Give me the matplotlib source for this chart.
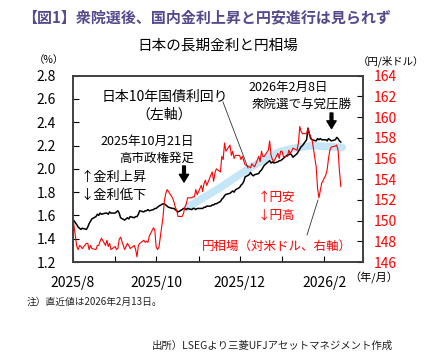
import numpy as np
import pandas as pd
import matplotlib
matplotlib.use("Agg")
import matplotlib.pyplot as plt
import matplotlib.dates as mdates
from matplotlib.lines import Line2D

plt.rcParams['font.family'] = ['Noto Sans CJK JP', 'DejaVu Sans']

W, H = 426, 363

# JGB 10y yield (%), business days by month
jgb_aug = [1.57, 1.52, 1.50, 1.49, 1.48, 1.49, 1.48, 1.50, 1.53, 1.55, 1.57,
           1.59, 1.61, 1.60, 1.62, 1.61, 1.62, 1.62, 1.61, 1.63, 1.62]
jgb_sep = [1.62, 1.63, 1.64, 1.62, 1.58, 1.56, 1.57, 1.58, 1.57, 1.59, 1.58,
           1.59, 1.59, 1.61, 1.64, 1.63, 1.64, 1.64, 1.65, 1.64, 1.65, 1.66]
jgb_oct = [1.66, 1.67, 1.68, 1.70, 1.70, 1.69, 1.68, 1.67, 1.66, 1.66, 1.65,
           1.64, 1.63, 1.65, 1.66, 1.66, 1.65, 1.66, 1.65, 1.66, 1.66, 1.65, 1.66]
jgb_nov = [1.66, 1.66, 1.67, 1.67, 1.68, 1.68, 1.69, 1.69, 1.70, 1.70, 1.72,
           1.74, 1.75, 1.77, 1.78, 1.79, 1.80, 1.81, 1.80, 1.82]
jgb_dec = [1.84, 1.86, 1.87, 1.89, 1.93, 1.95, 1.97, 1.95, 1.94, 1.95, 1.96,
           1.98, 1.99, 2.01, 2.03, 2.06, 2.07, 2.05, 2.06, 2.05, 2.06, 2.07, 2.07]
jgb_jan = [2.08, 2.09, 2.12, 2.12, 2.13, 2.12, 2.10, 2.13, 2.15, 2.17, 2.19,
           2.20, 2.25, 2.35, 2.30, 2.26, 2.25, 2.24, 2.26, 2.25, 2.26, 2.25]
jgb_feb = [2.25, 2.24, 2.26, 2.25, 2.24, 2.25, 2.27, 2.26, 2.24, 2.23]

# USD/JPY
usd_aug = [150.4, 147.5, 147.2, 147.6, 147.5, 147.3, 147.8, 147.8, 147.2, 147.6, 147.3,
           147.2, 147.6, 147.6, 148.0, 148.3, 147.6, 148.1, 147.5, 147.8, 147.2]
usd_sep = [147.5, 147.2, 147.3, 148.2, 148.4, 147.2, 147.5, 147.8, 147.6, 147.3, 147.6,
           147.2, 146.5, 147.6, 147.8, 148.1, 147.9, 148.0, 147.9, 148.5, 149.3, 149.1]
usd_oct = [147.5, 147.2, 147.4, 150.3, 151.9, 152.6, 153.0, 152.8, 152.2, 151.8, 151.3,
           151.0, 150.4, 150.4, 150.7, 151.3, 151.6, 152.2, 152.2, 152.3, 152.3, 153.0, 152.5]
usd_nov = [153.4, 152.8, 153.6, 153.9, 153.4, 154.4, 154.7, 153.8, 154.6, 155.0, 154.7,
           156.2, 155.9, 157.5, 156.7, 157.3, 156.3, 156.7, 156.0, 156.3]
usd_dec = [156.3, 155.9, 156.2, 155.8, 155.4, 155.2, 155.1, 155.5, 155.3, 155.2, 156.2,
           155.7, 156.7, 156.2, 156.2, 156.8, 157.7, 156.3, 155.9, 155.7, 156.5, 156.0, 156.7]
usd_jan = [156.7, 156.2, 156.2, 156.8, 156.5, 156.7, 157.0, 156.8, 157.5, 159.1, 158.6,
           158.4, 158.4, 158.9, 158.4, 158.1, 157.8, 155.2, 153.1, 152.2, 152.9, 153.6]
usd_feb = [154.4, 154.9, 156.0, 156.8, 157.1, 157.2, 157.3, 156.8, 154.8, 153.3]

dates = pd.bdate_range('2025-08-01', '2026-02-13')
jgb = jgb_aug + jgb_sep + jgb_oct + jgb_nov + jgb_dec + jgb_jan + jgb_feb
usd = usd_aug + usd_sep + usd_oct + usd_nov + usd_dec + usd_jan + usd_feb

# hand-drawn trend band (left axis units)
band_dates = pd.to_datetime(['2025-10-24', '2025-11-17', '2025-12-06', '2025-12-19',
                             '2025-12-31', '2026-01-11', '2026-01-23', '2026-02-04', '2026-02-14'])
band_vals = [1.67, 1.84, 1.99, 2.08, 2.15, 2.18, 2.20, 2.19, 2.185]

fig = plt.figure(figsize=(W / 100, H / 100), dpi=100)
ax = fig.add_axes([72.7 / W, 1 - 262 / H, 290 / W, 186.3 / H])
ax2 = ax.twinx()

ax.plot(band_dates, band_vals, color='#c4e6f6', lw=5.5, solid_capstyle='round', zorder=1)
ax.plot(dates, jgb, color='black', lw=1.1, zorder=3)
ax2.plot(dates, usd, color='#ff0000', lw=0.8)

ax.set_xlim(pd.Timestamp('2025-08-01'), pd.Timestamp('2026-03-01'))
ax.set_ylim(1.2, 2.8)
ax.set_yticks(np.arange(1.2, 2.81, 0.2))
ax.yaxis.set_major_formatter(plt.FuncFormatter(lambda v, p: f'{v:.1f}'))
ax2.set_ylim(146, 164)
ax2.set_yticks(np.arange(146, 165, 2))

ax.xaxis.set_major_locator(mdates.MonthLocator())
ax.xaxis.set_major_formatter(plt.FuncFormatter(
    lambda v, p: (lambda d: f'{d.year}/{d.month}' if d.month in (8, 10, 12, 2) else '')(mdates.num2date(v))))

ax.tick_params(axis='y', direction='in', length=4, width=0.8, labelsize=10, pad=12, right=False)
ax.tick_params(axis='x', direction='in', length=4, width=0.8, labelsize=10, pad=10)
ax2.tick_params(axis='y', direction='in', length=4, width=0.8, labelsize=10, pad=8, labelcolor='#ff0000')
for a in (ax, ax2):
    for s in a.spines.values():
        s.set_color('#404040')
        s.set_linewidth(1.2)


def ftext(x, y, s, **kw):
    kw.setdefault('va', 'center')
    fig.text(x / W, 1 - y / H, s, **kw)


def fxy(x, y):
    return (x / W, 1 - y / H)


ftext(22, 17, '【図1】衆院選後、国内金利上昇と円安進行は見られず', ha='left',
      fontsize=10.8, weight='bold', color='#564a8e')
ftext(218, 46, '日本の長期金利と円相場', ha='center', fontsize=10.5)
ftext(49, 60, '（%）', ha='center', fontsize=7.5)
ftext(391, 61, '（円/米ドル）', ha='center', fontsize=7.5)
ftext(374, 278, '（年/月）', ha='center', fontsize=8)
ftext(27, 302, '注）直近値は2026年2月13日。', ha='left', fontsize=7, color='#222222')
ftext(393, 346, '出所）LSEGより三菱UFJアセットマネジメント作成', ha='right', fontsize=7.5,
      color='#222222')

ftext(165, 97, '日本10年国債利回り', ha='center', fontsize=10)
ftext(164, 115, '（左軸）', ha='center', fontsize=10)
ftext(147, 141, '2025年10月21日', ha='center', fontsize=9, style='italic')
ftext(157, 158, '高市政権発足', ha='center', fontsize=9, style='italic')
ftext(80, 177, '↑金利上昇', ha='left', fontsize=9.5)
ftext(80, 195, '↓金利低下', ha='left', fontsize=9.5)
ftext(288, 87, '2026年2月8日', ha='center', fontsize=9, style='italic')
ftext(302, 105, '衆院選で与党圧勝', ha='center', fontsize=9, style='italic')
ftext(258, 197, '↑円安', ha='left', fontsize=9, color='#ff0000')
ftext(258, 215, '↓円高', ha='left', fontsize=9, color='#ff0000')
ftext(202, 246, '円相場（対米ドル、右軸）', ha='left', fontsize=9, color='#ff0000')

arrow = dict(arrowstyle='simple,head_width=0.67,head_length=0.55,tail_width=0.2',
             color='black', mutation_scale=10, shrinkA=0, shrinkB=0)
for x, y0, y1 in [(184, 166, 182), (331.5, 113, 128.5)]:
    ax.annotate('', xy=fxy(x, y1), xycoords='figure fraction',
                xytext=fxy(x, y0), textcoords='figure fraction', arrowprops=arrow)

for (x0, y0), (x1, y1) in [((223, 102), (248, 168)), ((318, 200), (307, 235))]:
    p0, p1 = fxy(x0, y0), fxy(x1, y1)
    fig.add_artist(Line2D([p0[0], p1[0]], [p0[1], p1[1]], transform=fig.transFigure,
                          color='#333333', lw=0.6))

fig.savefig('out.png', dpi=100)
